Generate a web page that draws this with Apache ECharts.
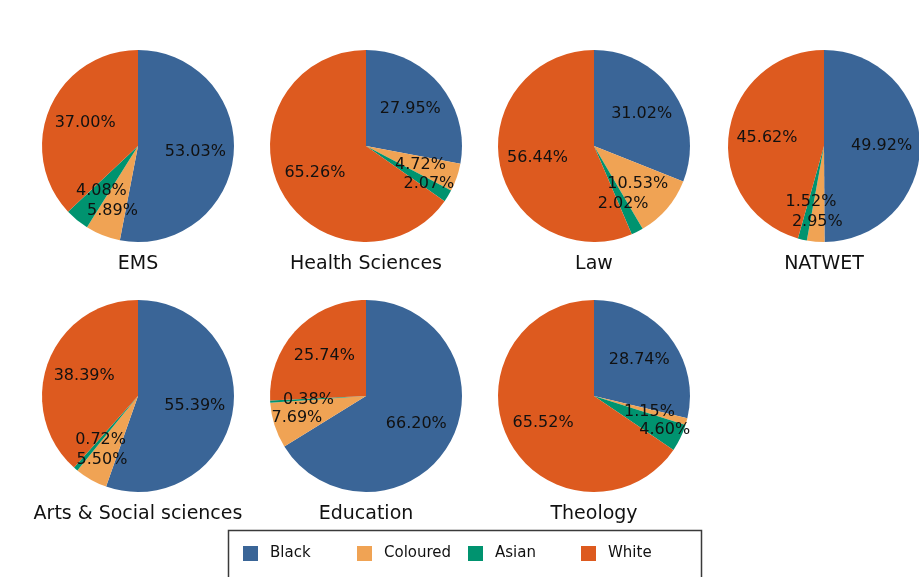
<!DOCTYPE html>
<html>
<head>
<meta charset="utf-8">
<script src="https://cdn.jsdelivr.net/npm/echarts@6/dist/echarts.min.js"></script>
<style>
  html, body { margin: 0; padding: 0; background: #ffffff; }
  #chart { width: 919px; height: 577px; }
</style>
</head>
<body>
<div id="chart"></div>
<script>
// Population groups, in the order they run clockwise from 12 o'clock
const groups = ['Black', 'Coloured', 'Asian', 'White'];

// Faculties, one pie each
const faculties = ['EMS', 'Health Sciences', 'Law', 'NATWET',
                   'Arts & Social sciences', 'Education', 'Theology'];

// Share (%) of each group per faculty: Black, Coloured, Asian, White
const ems       = [53.03, 5.89, 4.08, 37.00];
const health    = [27.95, 4.72, 2.07, 65.26];
const law       = [31.02, 10.53, 2.02, 56.44];
const natwet    = [49.92, 2.95, 1.52, 45.62];
const arts      = [55.39, 5.50, 0.72, 38.39];
const education = [66.20, 7.69, 0.38, 25.74];
const theology  = [28.74, 1.15, 4.60, 65.52];

const shares = [ems, health, law, natwet, arts, education, theology];

const palette = ['#3a6597', '#f0a354', '#00936f', '#dd5a1f'];

// Grid placement of the pies
const colX = [138, 366, 594, 824];
const rowY = [146, 396];
const R = 96;
const centers = faculties.map((f, i) => [colX[i % 4], rowY[Math.floor(i / 4)]]);

const FONT = '"DejaVu Sans", Verdana, sans-serif';
const LABEL_SIZE = 16;
const fmt = v => v.toFixed(2) + '%';

// ---- label placement: anchor at 0.6 R on each slice's bisector, then
// slide a label outward along its bisector when it collides with another.
const measure = document.createElement('canvas').getContext('2d');
measure.font = LABEL_SIZE + 'px ' + FONT;
const LABEL_H = 18;

function spotRect(s, c) {
  const x = c[0] + s.dir[0] * s.d, y = c[1] + s.dir[1] * s.d;
  return { x0: x - s.w / 2, x1: x + s.w / 2, y0: y - LABEL_H / 2, y1: y + LABEL_H / 2 };
}
function collide(a, b, c) {
  const ra = spotRect(a, c), rb = spotRect(b, c);
  return ra.x0 < rb.x1 && rb.x0 < ra.x1 && ra.y0 < rb.y1 && rb.y0 < ra.y1;
}
function pushNeeded(mover, other, c) {
  const start = mover.d;
  let step = 0;
  while (step < 0.5 * R && collide(mover, other, c)) { mover.d += 1; step += 1; }
  const ok = !collide(mover, other, c);
  mover.d = start;
  return ok ? step : Infinity;
}

const labelSpots = shares.map((vals, i) => {
  const c = centers[i];
  const total = vals.reduce((a, b) => a + b, 0);
  let acc = 0;
  const spots = vals.map(v => {
    const mid = (acc + v / 2) / total * Math.PI * 2;
    acc += v;
    return { dir: [Math.sin(mid), -Math.cos(mid)], d: 0.6 * R,
             w: measure.measureText(fmt(v)).width };
  });
  for (let pass = 0; pass < 3; pass++) {
    for (let a = 0; a < spots.length; a++) {
      for (let b = a + 1; b < spots.length; b++) {
        if (!collide(spots[a], spots[b], c)) continue;
        const na = pushNeeded(spots[a], spots[b], c);
        const nb = pushNeeded(spots[b], spots[a], c);
        if (na <= nb) spots[a].d += na + 2; else spots[b].d += nb + 2;
      }
    }
  }
  return spots.map(s => [c[0] + s.dir[0] * s.d, c[1] + s.dir[1] * s.d]);
});

const series = shares.map((vals, i) => ({
  type: 'pie',
  name: faculties[i],
  center: centers[i],
  radius: [0, R],
  startAngle: 90,
  clockwise: true,
  avoidLabelOverlap: false,
  animation: false,
  emphasis: { disabled: true },
  data: groups.map((g, k) => ({ name: g, value: vals[k] })),
  label: {
    show: true,
    position: 'inside',
    color: '#111',
    fontFamily: FONT,
    fontSize: LABEL_SIZE,
    formatter: p => fmt(p.value)
  },
  labelLine: { show: false },
  labelLayout: params => {
    const p = labelSpots[params.seriesIndex][params.dataIndex];
    return { x: p[0], y: p[1], align: 'center', verticalAlign: 'middle' };
  }
}));

// Faculty captions under each pie
const captions = faculties.map((f, i) => ({
  type: 'text',
  x: centers[i][0],
  y: centers[i][1] + 118,
  style: {
    text: f,
    fill: '#111',
    font: '19px ' + FONT,
    align: 'center',
    verticalAlign: 'middle'
  }
}));

// Legend frame
const frame = {
  type: 'rect',
  shape: { x: 228.5, y: 530.5, width: 473, height: 80 },
  style: { fill: 'none', stroke: '#3a3a3a', lineWidth: 1.5 },
  z: -1
};

const legendLeft = [243, 357, 468, 581];
const legends = groups.map((g, k) => ({
  data: [g],
  left: legendLeft[k],
  top: 546,
  padding: 0,
  itemWidth: 15,
  itemHeight: 15,
  icon: 'rect',
  selectedMode: false,
  textStyle: { fontFamily: FONT, fontSize: 15, color: '#111', padding: [0, 0, 0, 7] }
}));

const chart = echarts.init(document.getElementById('chart'), null, { renderer: 'canvas' });
chart.setOption({
  backgroundColor: '#ffffff',
  color: palette,
  animation: false,
  legend: legends,
  graphic: [frame].concat(captions),
  series: series
});
</script>
</body>
</html>
